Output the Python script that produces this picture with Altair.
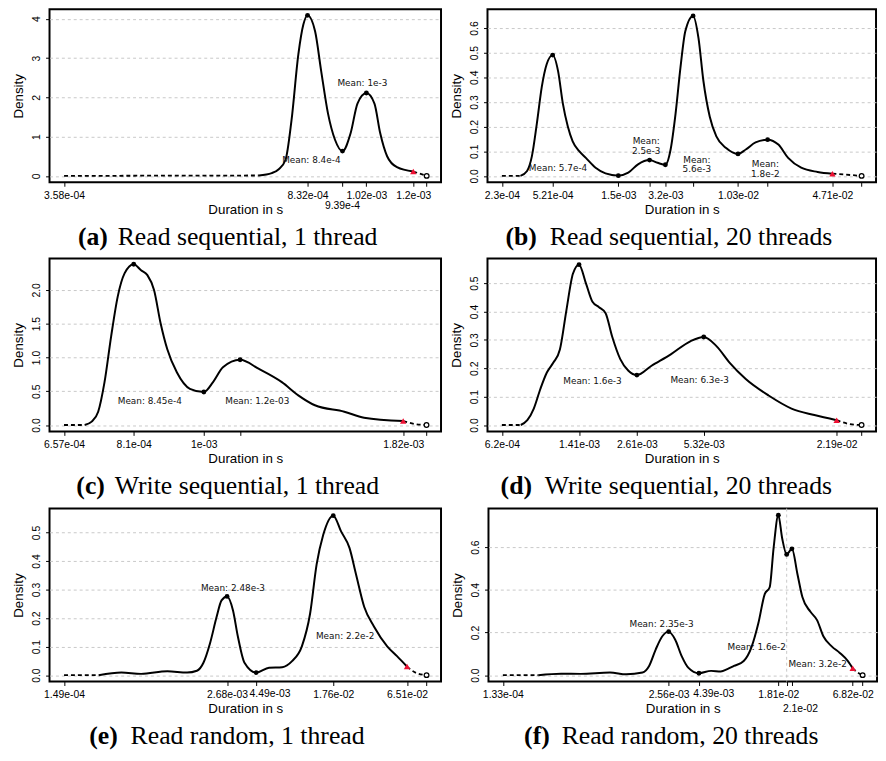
import altair as alt
import pandas as pd

# ---------------- data (durations in s, density) ----------------
# (a) Read sequential, 1 thread
a_x = [3.58e-4, 7.03e-4, 7.35e-4, 7.53e-4, 7.71e-4, 7.87e-4, 8.06e-4, 8.20e-4, 8.32e-4,
       8.54e-4, 8.72e-4, 8.93e-4, 9.15e-4, 9.39e-4, 9.66e-4, 9.89e-4, 1.02e-3, 1.049e-3,
       1.07e-3, 1.096e-3, 1.134e-3, 1.2e-3, 1.257e-3]
a_y = [0.0, 0.01, 0.07, 0.17, 0.41, 1.41, 3.1, 3.85, 4.085,
       3.68, 2.68, 1.59, 0.92, 0.63, 1.09, 1.84, 2.11, 1.84,
       1.09, 0.5, 0.22, 0.11, 0.0]
a_lo, a_hi = 7.03e-4, 1.2e-3
a_dots_x = [8.32e-4, 9.39e-4, 1.02e-3]
a_dots_y = [4.085, 0.63, 2.11]
a_p99 = [1.2e-3, 0.11]
a_max = [1.257e-3, 0.0]
a_ticks = [3.58e-4, 8.32e-4, 9.39e-4, 1.02e-3, 1.2e-3, 1.257e-3]
a_tick_labels = ["3.58e-04", "8.32e-04", "", "1.02e-03", "1.2e-03", ""]
a_extra_labels = [(9.39e-4, "9.39e-4", "second", 0)]
a_yticks = [0, 1, 2, 3, 4]
a_notes = [("Mean: 1e-3", 1.006e-3, 2.37), ("Mean: 8.4e-4", 8.43e-4, 0.41)]
a_caption = ("(a)", "Read sequential, 1 thread")

# (b) Read sequential, 20 threads
b_x = [2.3e-4, 3.10e-4, 3.45e-4, 3.73e-4, 4.04e-4, 4.37e-4, 4.73e-4, 5.21e-4, 5.68e-4,
       6.14e-4, 6.65e-4, 7.19e-4, 7.99e-4, 8.89e-4, 1.04e-3, 1.22e-3, 1.5e-3, 1.76e-3,
       2.06e-3, 2.48e-3, 2.82e-3, 3.2e-3, 3.48e-3, 3.77e-3, 4.08e-3, 4.41e-3, 5.0e-3,
       5.45e-3, 5.90e-3, 6.54e-3, 7.27e-3, 8.51e-3, 1.03e-2, 1.168e-2, 1.367e-2, 1.66e-2,
       1.974e-2, 2.31e-2, 2.85e-2, 3.71e-2, 4.71e-2, 7.54e-2]
b_y = [0.0, 0.0, 0.02, 0.08, 0.213, 0.36, 0.453, 0.49, 0.426,
       0.293, 0.2, 0.14, 0.1, 0.073, 0.033, 0.01, 0.001, 0.013,
       0.047, 0.064, 0.053, 0.045, 0.107, 0.253, 0.44, 0.587, 0.649,
       0.56, 0.386, 0.24, 0.16, 0.113, 0.089, 0.107, 0.136, 0.147,
       0.127, 0.073, 0.033, 0.016, 0.009, 0.0]
b_lo, b_hi = 3.10e-4, 4.71e-2
b_dots_x = [5.21e-4, 1.5e-3, 2.48e-3, 3.2e-3, 5.0e-3, 1.03e-2, 1.66e-2]
b_dots_y = [0.49, 0.001, 0.064, 0.045, 0.649, 0.089, 0.147]
b_p99 = [4.71e-2, 0.009]
b_max = [7.54e-2, 0.0]
b_ticks = [2.3e-4, 5.21e-4, 1.5e-3, 2.48e-3, 3.2e-3, 5.0e-3, 1.03e-2, 1.66e-2, 4.71e-2, 7.54e-2]
b_tick_labels = ["2.3e-04", "5.21e-04", "1.5e-03", "", "3.2e-03", "", "1.03e-02", "", "4.71e-02", ""]
b_extra_labels = []
b_yticks = [0.0, 0.1, 0.2, 0.3, 0.4, 0.5, 0.6]
b_notes = [("Mean: 5.7e-4", 5.68e-4, 0.033), ("Mean:\n2.5e-3", 2.35e-3, 0.142),
           ("Mean:\n5.6e-3", 5.31e-3, 0.066), ("Mean:\n1.8e-2", 1.6e-2, 0.049)]
b_caption = ("(b)", "Read sequential, 20 threads")

# (c) Write sequential, 1 thread
c_x = [6.57e-4, 6.99e-4, 7.14e-4, 7.28e-4, 7.42e-4, 7.57e-4, 7.72e-4, 7.88e-4, 8.1e-4,
       8.28e-4, 8.44e-4, 8.61e-4, 8.78e-4, 8.96e-4, 9.22e-4, 9.59e-4, 1e-3, 1.028e-3,
       1.059e-3, 1.115e-3, 1.18e-3, 1.264e-3, 1.328e-3, 1.396e-3, 1.525e-3, 1.618e-3,
       1.82e-3, 1.895e-3, 1.952e-3]
c_y = [0.0, 0.0, 0.05, 0.196, 0.634, 1.316, 1.90, 2.243, 2.379,
       2.29, 2.218, 1.998, 1.51, 1.12, 0.78, 0.536, 0.488, 0.634,
       0.853, 0.965, 0.829, 0.634, 0.439, 0.292, 0.196, 0.108,
       0.058, 0.01, 0.0]
c_lo, c_hi = 6.99e-4, 1.82e-3
c_dots_x = [8.1e-4, 1e-3, 1.115e-3]
c_dots_y = [2.379, 0.488, 0.965]
c_p99 = [1.82e-3, 0.058]
c_max = [1.952e-3, 0.0]
c_ticks = [6.57e-4, 8.1e-4, 1e-3, 1.115e-3, 1.82e-3, 1.952e-3]
c_tick_labels = ["6.57e-04", "8.1e-04", "1e-03", "", "1.82e-03", ""]
c_extra_labels = []
c_yticks = [0.0, 0.5, 1.0, 1.5, 2.0]
c_notes = [("Mean: 8.45e-4", 8.5e-4, 0.357), ("Mean: 1.2e-03", 1.174e-3, 0.357)]
c_caption = ("(c)", "Write sequential, 1 thread")

# (d) Write sequential, 20 threads
d_x = [6.2e-4, 7.58e-4, 8.13e-4, 8.71e-4, 9.34e-4, 1.001e-3, 1.073e-3, 1.15e-3, 1.233e-3,
       1.321e-3, 1.41e-3, 1.519e-3, 1.627e-3, 1.744e-3, 1.871e-3, 2.004e-3, 2.187e-3,
       2.385e-3, 2.61e-3, 3.04e-3, 3.745e-3, 4.61e-3, 5.32e-3, 6.09e-3, 7.0e-3, 8.32e-3,
       1.061e-2, 1.354e-2, 1.727e-2, 2.19e-2, 2.53e-2, 2.855e-2]
d_y = [0.0, 0.0, 0.017, 0.058, 0.127, 0.185, 0.22, 0.266, 0.405,
       0.533, 0.565, 0.498, 0.434, 0.415, 0.394, 0.3125, 0.232,
       0.191, 0.176, 0.208, 0.249, 0.295, 0.31, 0.278, 0.22, 0.162,
       0.104, 0.058, 0.035, 0.017, 0.003, 0.0]
d_lo, d_hi = 7.58e-4, 2.19e-2
d_dots_x = [1.41e-3, 2.61e-3, 5.32e-3]
d_dots_y = [0.565, 0.176, 0.31]
d_p99 = [2.19e-2, 0.017]
d_max = [2.855e-2, 0.0]
d_ticks = [6.2e-4, 1.41e-3, 2.61e-3, 5.32e-3, 2.19e-2, 2.855e-2]
d_tick_labels = ["6.2e-04", "1.41e-03", "2.61e-03", "5.32e-03", "2.19e-02", ""]
d_extra_labels = []
d_yticks = [0.0, 0.1, 0.2, 0.3, 0.4, 0.5]
d_notes = [("Mean: 1.6e-3", 1.627e-3, 0.154), ("Mean: 6.3e-3", 5.09e-3, 0.159)]
d_caption = ("(d)", "Write sequential, 20 threads")

# (e) Read random, 1 thread
e_x = [1.49e-4, 2.75e-4, 4.12e-4, 5.84e-4, 9.31e-4, 1.32e-3, 1.571e-3, 1.763e-3, 1.982e-3,
       2.228e-3, 2.43e-3, 2.68e-3, 2.975e-3, 3.246e-3, 3.65e-3, 4.49e-3, 5.64e-3, 7.12e-3,
       8.48e-3, 1.009e-2, 1.168e-2, 1.311e-2, 1.474e-2, 1.76e-2, 2.027e-2, 2.347e-2,
       2.634e-2, 3.05e-2, 3.63e-2, 4.58e-2, 5.45e-2, 6.51e-2, 7.72e-2, 9.2e-2]
e_y = [0.0, 0.0, 0.009, 0.0045, 0.0138, 0.009, 0.0155, 0.0435, 0.112,
       0.2045, 0.262, 0.276, 0.2276, 0.1355, 0.0435, 0.009, 0.026, 0.028,
       0.049, 0.101, 0.216, 0.388, 0.492, 0.559, 0.503, 0.446,
       0.354, 0.239, 0.17, 0.101, 0.0666, 0.03, 0.007, 0.0]
e_lo, e_hi = 2.75e-4, 6.51e-2
e_dots_x = [2.68e-3, 4.49e-3, 1.76e-2]
e_dots_y = [0.276, 0.009, 0.559]
e_p99 = [6.51e-2, 0.03]
e_max = [9.2e-2, 0.0]
e_ticks = [1.49e-4, 2.68e-3, 4.49e-3, 1.76e-2, 6.51e-2, 9.2e-2]
e_tick_labels = ["1.49e-04", "2.68e-03", "", "1.76e-02", "6.51e-02", ""]
e_extra_labels = [(4.49e-3, "4.49e-03", "first", 14)]
e_yticks = [0.0, 0.1, 0.2, 0.3, 0.4, 0.5]
e_notes = [("Mean: 2.48e-3", 2.975e-3, 0.304), ("Mean: 2.2e-2", 2.174e-2, 0.1355)]
e_caption = ("(e)", "Read random, 1 thread")

# (f) Read random, 20 threads
f_x = [1.33e-4, 2.5e-4, 3.76e-4, 5.33e-4, 8.99e-4, 1.203e-3, 1.606e-3, 1.806e-3, 2.03e-3,
       2.278e-3, 2.56e-3, 2.877e-3, 3.228e-3, 3.628e-3, 4.39e-3, 5.45e-3, 6.49e-3, 7.29e-3,
       8.2e-3, 9.76e-3, 1.127e-2, 1.267e-2, 1.422e-2, 1.551e-2, 1.664e-2, 1.81e-2,
       1.936e-2, 2.1e-2, 2.306e-2, 2.546e-2, 2.779e-2, 3.21e-2, 3.61e-2, 4.05e-2,
       4.69e-2, 5.42e-2, 6.26e-2, 6.82e-2, 7.46e-2, 8.14e-2]
f_y = [0.0, 0.0, 0.007, 0.006, 0.012, 0.004, 0.012, 0.043, 0.12,
       0.181, 0.204, 0.166, 0.089, 0.035, 0.009, 0.02, 0.017, 0.028,
       0.043, 0.066, 0.135, 0.243, 0.381, 0.412, 0.597, 0.75,
       0.643, 0.566, 0.592, 0.473, 0.366, 0.297, 0.258, 0.181,
       0.135, 0.104, 0.066, 0.032, 0.012, 0.0]
f_lo, f_hi = 2.5e-4, 6.82e-2
f_dots_x = [2.56e-3, 4.39e-3, 1.81e-2, 2.1e-2, 2.306e-2]
f_dots_y = [0.204, 0.009, 0.75, 0.566, 0.592]
f_p99 = [6.82e-2, 0.032]
f_max = [8.14e-2, 0.0]
f_ticks = [1.33e-4, 2.56e-3, 4.39e-3, 1.81e-2, 2.1e-2, 2.306e-2, 6.82e-2, 8.14e-2]
f_tick_labels = ["1.33e-04", "2.56e-03", "", "1.81e-02", "", "", "6.82e-02", ""]
f_extra_labels = [(4.39e-3, "4.39e-03", "first", 15), (2.1e-2, "2.1e-02", "third", 14)]
f_vlines = [2.1e-2]
f_yticks = [0.0, 0.2, 0.4, 0.6]
f_notes = [("Mean: 2.35e-3", 2.254e-3, 0.24), ("Mean: 1.6e-2", 1.23e-2, 0.132),
           ("Mean: 3.2e-2", 3.65e-2, 0.0535)]
f_caption = ("(f)", "Read random, 20 threads")

# ---------------- layout / style ----------------
WL, WR, H = 396, 393, 175
FONT = "Liberation Sans"
SERIF = "Liberation Serif"
ROW_OFFSET = {"first": 8, "second": 19, "third": 23}
CAP_Y = 238

panels = [
    dict(x=a_x, y=a_y, lo=a_lo, hi=a_hi, dx=a_dots_x, dy=a_dots_y, p99=a_p99, mx=a_max,
         ticks=a_ticks, tl=a_tick_labels, extra=a_extra_labels,
         yt=a_yticks, yfmt="d", xdom=[3.404e-4, 1.321e-3], ydom=[-0.163, 4.24],
         notes=a_notes, cap=a_caption, cap_x=(59, 69), vl=[], w=WL),
    dict(x=b_x, y=b_y, lo=b_lo, hi=b_hi, dx=b_dots_x, dy=b_dots_y, p99=b_p99, mx=b_max,
         ticks=b_ticks, tl=b_tick_labels, extra=b_extra_labels,
         yt=b_yticks, yfmt=".1f", xdom=[1.824e-4, 9.51e-2], ydom=[-0.026, 0.676],
         notes=b_notes, cap=b_caption, cap_x=(50, 63), vl=[], w=WR),
    dict(x=c_x, y=c_y, lo=c_lo, hi=c_hi, dx=c_dots_x, dy=c_dots_y, p99=c_p99, mx=c_max,
         ticks=c_ticks, tl=c_tick_labels, extra=c_extra_labels,
         yt=c_yticks, yfmt=".1f", xdom=[6.29e-4, 2.039e-3], ydom=[-0.095, 2.465],
         notes=c_notes, cap=c_caption, cap_x=(56, 66), vl=[], w=WL),
    dict(x=d_x, y=d_y, lo=d_lo, hi=d_hi, dx=d_dots_x, dy=d_dots_y, p99=d_p99, mx=d_max,
         ticks=d_ticks, tl=d_tick_labels, extra=d_extra_labels,
         yt=d_yticks, yfmt=".1f", xdom=[5.32e-4, 3.33e-2], ydom=[-0.0226, 0.587],
         notes=d_notes, cap=d_caption, cap_x=(45, 58), vl=[], w=WR),
    dict(x=e_x, y=e_y, lo=e_lo, hi=e_hi, dx=e_dots_x, dy=e_dots_y, p99=e_p99, mx=e_max,
         ticks=e_ticks, tl=e_tick_labels, extra=e_extra_labels,
         yt=e_yticks, yfmt=".1f", xdom=[1.152e-4, 0.1189], ydom=[-0.0224, 0.584],
         notes=e_notes, cap=e_caption, cap_x=(69, 82), vl=[], w=WL),
    dict(x=f_x, y=f_y, lo=f_lo, hi=f_hi, dx=f_dots_x, dy=f_dots_y, p99=f_p99, mx=f_max,
         ticks=f_ticks, tl=f_tick_labels, extra=f_extra_labels,
         yt=f_yticks, yfmt=".1f", xdom=[1.029e-4, 0.1052], ydom=[-0.03, 0.781],
         notes=f_notes, cap=f_caption, cap_x=(62, 74), vl=f_vlines, w=WR),
]


def label_expr(vals, labs):
    parts = [f"abs(datum.value / {v!r} - 1) < 1e-6 ? '{l}'" for v, l in zip(vals, labs)]
    return " : ".join(parts) + " : ''"


def make_panel(P):
    solid, dashed = [], []
    for x, y in zip(P["x"], P["y"]):
        if P["lo"] <= x <= P["hi"]:
            solid.append(dict(x=x, y=y))
        if x <= P["lo"]:
            dashed.append(dict(x=x, y=y, seg="left"))
        if x >= P["hi"]:
            dashed.append(dict(x=x, y=y, seg="right"))

    X = alt.X("x:Q",
              scale=alt.Scale(type="log", domain=P["xdom"], nice=False, zero=False),
              axis=alt.Axis(values=P["ticks"], labelExpr=label_expr(P["ticks"], P["tl"]),
                            title="Duration in s", grid=False, labelOverlap=False,
                            labelFlush=False, labelBound=False, labelAngle=0))
    Y = alt.Y("y:Q",
              scale=alt.Scale(domain=P["ydom"], nice=False, zero=False),
              axis=alt.Axis(values=P["yt"], format=P["yfmt"], title="Density", grid=True,
                            labelAngle=270, titlePadding=6))

    layers = []
    if P["vl"]:
        layers.append(alt.Chart(pd.DataFrame({"x": P["vl"]})).mark_rule(
            color="#c8c8c8", strokeDash=[3, 3], strokeWidth=1).encode(x=X))
    layers.append(alt.Chart(pd.DataFrame(solid)).mark_line(
        color="black", strokeWidth=2, interpolate="monotone").encode(x=X, y=Y))
    layers.append(alt.Chart(pd.DataFrame(dashed)).mark_line(
        color="black", strokeWidth=1.8, strokeDash=[4, 3], interpolate="monotone").encode(
        x=X, y=Y, detail="seg:N"))
    layers.append(alt.Chart(pd.DataFrame({"x": P["dx"], "y": P["dy"]})).mark_point(
        filled=True, color="black", size=24, opacity=1).encode(x=X, y=Y))
    layers.append(alt.Chart(pd.DataFrame({"x": [P["p99"][0]], "y": [P["p99"][1]]})).mark_point(
        shape="triangle-up", filled=True, color="#ee1133", size=42, opacity=1).encode(x=X, y=Y))
    layers.append(alt.Chart(pd.DataFrame({"x": [P["mx"][0]], "y": [P["mx"][1]]})).mark_point(
        shape="circle", filled=False, fill="white", fillOpacity=1, stroke="black",
        strokeWidth=1.3, size=22, opacity=1).encode(x=X, y=Y))
    notes = pd.DataFrame({"t": [n[0] for n in P["notes"]], "x": [n[1] for n in P["notes"]],
                          "y": [n[2] for n in P["notes"]]})
    layers.append(alt.Chart(notes).mark_text(
        font="DejaVu Sans", fontSize=9, color="#111111", lineBreak="\n", lineHeight=10,
        align="center", baseline="middle").encode(x=X, y=Y, text="t:N"))
    for (lx, lt, row, ldx) in P["extra"]:
        layers.append(alt.Chart(pd.DataFrame({"x": [lx], "t": [lt]})).mark_text(
            font=FONT, fontSize=10.5, color="black", align="center", baseline="top",
            dx=ldx).encode(x=X, y=alt.value(H + ROW_OFFSET[row]), text="t:N"))
    lab, txt = P["cap"]
    layers.append(alt.Chart(pd.DataFrame({"t": [lab]})).mark_text(
        font=SERIF, fontSize=26, fontWeight="bold", color="black", align="right",
        baseline="alphabetic").encode(x=alt.value(P["cap_x"][0]), y=alt.value(CAP_Y), text="t:N"))
    layers.append(alt.Chart(pd.DataFrame({"t": [txt]})).mark_text(
        font=SERIF, fontSize=26, color="black", align="left",
        baseline="alphabetic").encode(x=alt.value(P["cap_x"][1]), y=alt.value(CAP_Y), text="t:N"))
    return alt.layer(*layers).properties(width=P["w"], height=H)


ps = [make_panel(P) for P in panels]
rows = [alt.hconcat(ps[0], ps[1], spacing=7),
        alt.hconcat(ps[2], ps[3], spacing=7),
        alt.hconcat(ps[4], ps[5], spacing=7)]
chart = alt.vconcat(*rows, spacing=7).properties(
    padding={"left": 3, "top": -4, "right": 0, "bottom": 0}
).configure_view(
    stroke="black", strokeWidth=2
).configure_axis(
    labelFont=FONT, labelFontSize=10.5, labelColor="black",
    titleFont=FONT, titleFontSize=13.5, titleFontWeight="normal", titleColor="black",
    tickColor="black", tickSize=4, labelPadding=4, domain=False, titlePadding=2,
    gridColor="#c8c8c8", gridDash=[3, 3], gridWidth=1
)

chart.save("out.html", embed_options={"renderer": "svg", "actions": False})
